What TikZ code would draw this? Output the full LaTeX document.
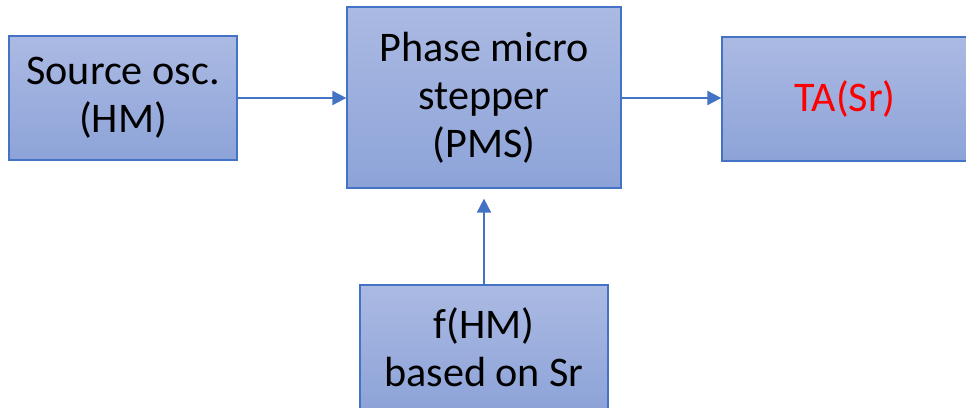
\documentclass[tikz,border=0pt]{standalone}
\usepackage{fontspec}
\setmainfont{Carlito}
\usetikzlibrary{arrows.meta}

\definecolor{boxtop}{RGB}{171,186,227}
\definecolor{boxbot}{RGB}{141,163,216}
\definecolor{boxline}{RGB}{68,114,196}

\begin{document}
\begin{tikzpicture}[
    blk/.style={draw=boxline, line width=0.9pt, top color=boxtop, bottom color=boxbot,
        align=center, inner sep=0pt, font=\fontsize{30}{34}\selectfont},
    link/.style={draw=boxline, line width=1.4pt, -{Triangle[length=10pt,width=10pt]}}
]

\useasboundingbox (0,0) rectangle (24.15,10.2);
\clip (0,0) rectangle (24.15,10.2);

% boxes
\node[blk, minimum width=5.7cm, minimum height=3.1cm] (src) at (3.075,7.75) {Source osc.\\(HM)};
\node[blk, minimum width=6.85cm, minimum height=4.525cm] (pms) at (12.1,7.7625) {Phase micro\\stepper\\(PMS)};
\node[blk, minimum width=6.15cm, minimum height=3.1cm, text=red] (ta) at (21.125,7.725) {TA(Sr)};
\node[blk, minimum width=6.2cm, minimum height=3.1cm] (fhm) at (12.1,1.525) {f(HM)\\based on Sr};

% arrows
\draw[link] (src.east) -- (src.east -| pms.west);
\draw[link] (pms.east |- src.east) -- (ta.west |- src.east);
\draw[link, shorten >=0.25cm] (fhm.north) -- (pms.south);

\end{tikzpicture}
\end{document}
